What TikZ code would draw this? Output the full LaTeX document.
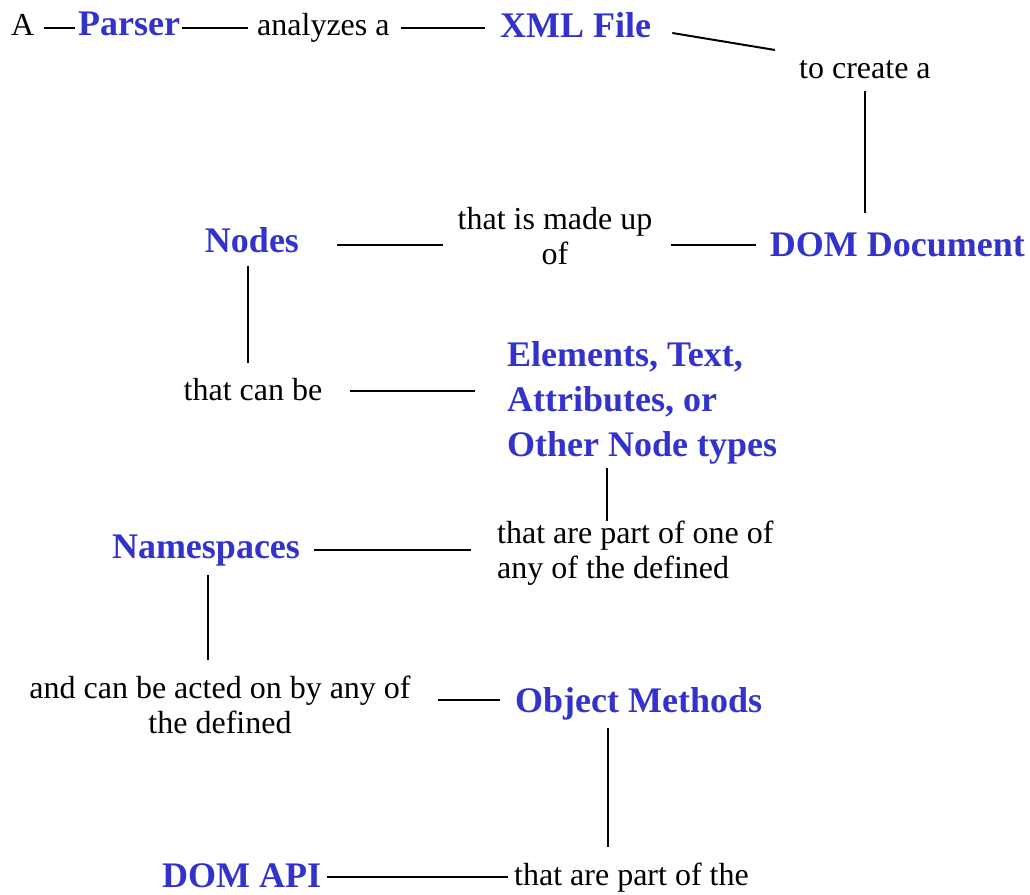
\documentclass[tikz,border=0pt]{standalone}
\usepackage{fontspec}
\setmainfont{Liberation Serif}
\definecolor{dblue}{RGB}{51,51,204}
\begin{document}
\begin{tikzpicture}[x=1pt,y=-1pt,
  lbl/.style={inner sep=0pt, font=\fontsize{32}{35}\selectfont, align=center},
  key/.style={inner sep=0pt, font=\fontsize{36}{45}\bfseries\selectfont, text=dblue},
  conn/.style={line width=2pt}]
\useasboundingbox (0,0) rectangle (1030,894);
% nodes
\node[lbl, anchor=base west] (a) at (11,35) {A};
\node[key, anchor=base west] (parser) at (78,35) {Parser};
\node[lbl, anchor=base west] (analyzes) at (257,35) {analyzes a};
\node[key, anchor=base west] (xml) at (500,37) {XML File};
\node[lbl, anchor=base west] (create) at (799,78) {to create a};
\node[key, anchor=base east] (domdoc) at (1025,256) {DOM Document};
\node[lbl, anchor=north] (madeup) at (555,207) {that is made up\\of};
\node[key, anchor=base] (nodes) at (252,252) {Nodes};
\node[lbl, anchor=base] (canbe) at (253,400) {that can be};
\node[key, anchor=north west, align=left] (elements) at (507,341) {Elements, Text,\\Attributes, or\\Other Node types};
\node[lbl, anchor=north west, align=left] (partof) at (497,521) {that are part of one of\\any of the defined};
\node[key, anchor=base] (ns) at (206,558) {Namespaces};
\node[lbl, anchor=north] (acted) at (220,676) {and can be acted on by any of\\the defined};
\node[key, anchor=base west] (om) at (515,712) {Object Methods};
\node[key, anchor=base west] (api) at (162,887) {DOM API};
\node[lbl, anchor=base west] (partthe) at (514,885) {that are part of the};
% connectors
\draw[conn] ([shift={(9,-7)}]a.base east) -- ([shift={(-3,-7)}]parser.base west);
\draw[conn] ([shift={(2,-7)}]parser.base east) -- ([shift={(-9,-7)}]analyzes.base west);
\draw[conn] ([shift={(11,-7)}]analyzes.base east) -- ([shift={(-15,-9)}]xml.base west);
\draw[conn] ([shift={(21,-4)}]xml.base east) -- ([shift={(-24,-28)}]create.base west);
\draw[conn, shorten <=12pt, shorten >=19pt] (create.south) -- (create.south |- domdoc.north);
\coordinate (p6) at ([shift={(-14,-11)}]domdoc.base west);
\draw[conn, shorten >=18pt] (p6) -- (madeup.east |- p6);
\coordinate (p7) at ([shift={(38,-7)}]nodes.base east);
\draw[conn, shorten >=14pt] (p7) -- (madeup.west |- p7);
\coordinate (p8) at ([xshift=-4pt]nodes.south);
\draw[conn, shorten <=13pt, shorten >=15pt] (p8) -- (p8 |- canbe.north);
\coordinate (p9) at ([shift={(27,-9)}]canbe.base east);
\draw[conn, shorten >=32pt] (p9) -- (elements.west |- p9);
\coordinate (p10) at ([xshift=-35pt]elements.south);
\draw[conn, shorten <=4pt] (p10) -- (p10 |- partof.north);
\coordinate (p11) at ([shift={(14,-8)}]ns.base east);
\draw[conn, shorten >=26pt] (p11) -- (partof.west |- p11);
\coordinate (p12) at ([xshift=2pt]ns.south);
\draw[conn, shorten <=9pt, shorten >=16pt] (p12) -- (p12 |- acted.north);
\coordinate (p13) at ([shift={(-15,-12)}]om.base west);
\draw[conn, shorten >=27pt] (p13) -- (acted.east |- p13);
\coordinate (p14) at ([xshift=-31pt]om.south);
\draw[conn, shorten <=8pt, shorten >=15pt] (p14) -- (p14 |- partthe.north);
\draw[conn] ([shift={(-6,-8)}]partthe.base west) -- ([shift={(6,-10)}]api.base east);
\end{tikzpicture}
\end{document}
